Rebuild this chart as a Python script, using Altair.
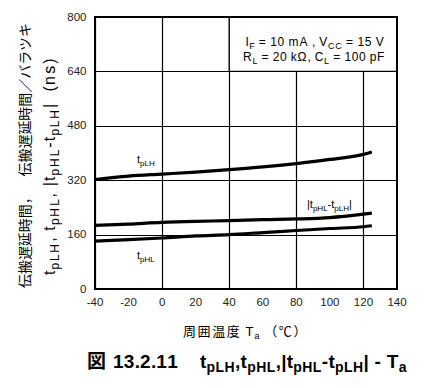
import altair as alt
import pandas as pd

# ---------------- data ----------------
temps = [-40, -20, 0, 20, 40, 60, 80, 100, 120, 125]
t_plh = [322, 332, 338, 344, 351, 359, 369, 381, 396, 403]
t_diff = [187, 191, 196, 199, 201, 204, 206, 210, 220, 223]
t_phl = [141, 145, 150, 156, 160, 166, 172, 178, 183, 186]

x_ticks = [-40, -20, 0, 20, 40, 60, 80, 100, 120, 140]
y_ticks = [0, 160, 320, 480, 640, 800]
x_domain = [-40, 140]
y_domain = [0, 800]

rows = []
for name, vals in [("tpLH", t_plh), ("diff", t_diff), ("tpHL", t_phl)]:
    for t, v in zip(temps, vals):
        rows.append({"T": t, "v": v, "series": name})
df = pd.DataFrame(rows)
xtick_df = pd.DataFrame({"T": x_ticks, "lab": [str(v) for v in x_ticks]})

# ---------------- layout ----------------
W, H = 302, 272
PAD = {"left": 87, "top": 9, "right": 21, "bottom": 91}
FONT = "Liberation Sans, Arial, sans-serif"
JP = "Noto Sans CJK JP"

REG = {' ': 278, ',': 278, '-': 333, '.': 278, '/': 278, '=': 584, '(': 333, ')': 333,
       '|': 260, 'A': 667, 'C': 722, 'F': 611, 'H': 722, 'I': 278, 'L': 556, 'R': 722,
       'T': 611, 'V': 667, 'a': 556, 'k': 500, 'm': 833, 'n': 556, 'p': 556, 's': 500,
       't': 278, 'Ω': 768, 'f': 278}
BOLD = {' ': 278, ',': 278, '-': 333, '.': 278, '|': 280, 'H': 722, 'L': 611, 'T': 611,
        'a': 556, 'p': 611, 't': 333}


def is_cjk(c):
    return ord(c) > 0x2000


def adv(c, fs, bold):
    if is_cjk(c):
        return fs
    if c.isdigit():
        return 0.556 * fs
    table = BOLD if bold else REG
    return table.get(c, 556) / 1000.0 * fs


text_rows = []


def block(segs, fs, sub, drop, base, start=None, center=None, span=None, rot=False, bold=False):
    chars = []
    for txt, s in segs:
        for c in txt:
            size = sub if s else fs
            chars.append((c, size, s))
    nat = sum(adv(c, size, bold) for c, size, _ in chars)
    hs = span / nat if span else 1.0
    total = nat * hs
    if center is not None:
        start = center - total / 2 if not rot else center + total / 2
    off = 0.0
    for c, size, s in chars:
        a = adv(c, size, bold) * hs
        if c.strip():
            g = ("jp" if is_cjk(c) else "lat") + ("b" if bold else "n")
            if rot:
                x, y = base + (drop if s else 0), start - off
            else:
                x, y = start + off, base + (drop if s else 0)
            text_rows.append({"x": x, "y": y, "t": c, "s": size, "a": 270 if rot else 0, "g": g})
        off += a


# y-axis title (two rotated columns)
block([("伝搬遅延時間，　伝搬遅延時間／バラツキ", 0)], 14, 14, 0, base=-65, center=138.5, span=265, rot=True)
block([("t", 0), ("pLH", 1), (", ", 0), ("t", 0), ("pHL", 1), (", ", 0), ("|t", 0), ("pHL", 1),
       ("-t", 0), ("pLH", 1), ("|", 0), ("  (ns)", 0)],
      16, 12, 4, base=-40, center=149, span=218, rot=True)
# x-axis title
block([("周囲温度", 0), (" T", 0), ("a", 1), (" （℃）", 0)], 13, 9, 3, base=319, start=88, span=125)
# caption
block([("図", 0)], 19, 19, 0, base=351, start=-8, bold=True)
block([("13.2.11", 0)], 19, 19, 0, base=351, start=18, span=65, bold=True)
block([("t", 0), ("pLH", 1), (",t", 0), ("pHL", 1), (",|t", 0), ("pHL", 1), ("-t", 0), ("pLH", 1),
       ("| - T", 0), ("a", 1)], 19, 14, 3.5, base=351, start=105, span=207, bold=True)
# conditions box
block([("I", 0), ("F", 1), (" = 10 mA , V", 0), ("CC", 1), (" = 15 V", 0)], 12, 9, 3, base=29,
      center=220, span=139)
block([("R", 0), ("L", 1), (" = 20 kΩ, C", 0), ("L", 1), (" = 100 pF", 0)], 12, 9, 3, base=44,
      center=219, span=142)
# curve labels
block([("t", 0), ("pLH", 1)], 11, 8, 3, base=146, start=42)
block([("|t", 0), ("pHL", 1), ("-t", 0), ("pLH", 1), ("|", 0)], 11, 8, 3, base=191, start=212)
block([("t", 0), ("pHL", 1)], 11, 8, 3, base=242, start=42)

tdf = pd.DataFrame(text_rows)

xs = alt.Scale(domain=x_domain, nice=False, zero=False)
ys = alt.Scale(domain=y_domain, nice=False, zero=False)

common = dict(title=None, grid=True, tickSize=0, domain=False, labelFontSize=11.5, labelFont=FONT,
              labelColor="#222", gridColor="black", gridWidth=1.2, gridOpacity=1)
xaxis = alt.Axis(values=x_ticks, labels=False, **common)
yaxis = alt.Axis(values=y_ticks, labelPadding=9, labelOverlap=False, **common)

lines = alt.Chart(df).mark_line(color="black", strokeWidth=3.2, interpolate="monotone").encode(
    x=alt.X("T:Q", scale=xs, axis=xaxis),
    y=alt.Y("v:Q", scale=ys, axis=yaxis),
    detail="series:N",
)

xlabels = alt.Chart(xtick_df).mark_text(
    font=FONT, fontSize=11.5, color="#222", baseline="top", align="center", dy=8
).encode(x=alt.X("T:Q", scale=xs), y=alt.value(H), text="lab:N")

cond_box = alt.Chart(pd.DataFrame({"d": [0]})).mark_rect(fill="white", stroke="black", strokeWidth=1.3).encode(
    x=alt.datum(40, scale=xs), x2=alt.datum(140), y=alt.datum(640, scale=ys), y2=alt.datum(800))

label_bg = alt.Chart(pd.DataFrame({"d": [0]})).mark_rect(fill="white").encode(
    x=alt.datum(84.5, scale=xs), x2=alt.datum(115.5), y=alt.datum(226, scale=ys), y2=alt.datum(274))

frame = alt.Chart(pd.DataFrame({"d": [0]})).mark_rect(fill="transparent", stroke="black", strokeWidth=2).encode(
    x=alt.datum(-40, scale=xs), x2=alt.datum(140), y=alt.datum(0, scale=ys), y2=alt.datum(800))


def text_layer(group, font, weight):
    return alt.Chart(tdf).transform_filter(alt.datum.g == group).mark_text(
        align="left", baseline="alphabetic", font=font, fontWeight=weight, color="black"
    ).encode(
        x=alt.X("x:Q", scale=None, axis=None),
        y=alt.Y("y:Q", scale=None, axis=None),
        text="t:N",
        size=alt.Size("s:Q", scale=None, legend=None),
        angle=alt.Angle("a:Q", scale=None, legend=None),
    )


chart = alt.layer(
    label_bg, cond_box, lines, frame, xlabels,
    text_layer("latn", FONT, "normal"),
    text_layer("jpn", JP, "normal"),
    text_layer("latb", FONT, "bold"),
    text_layer("jpb", JP, "bold"),
).properties(
    width=W, height=H,
    autosize=alt.AutoSizeParams(type="none"),
    padding=PAD,
).configure_view(stroke="transparent")

chart.save("out.html", embed_options={"renderer": "svg", "actions": False})
